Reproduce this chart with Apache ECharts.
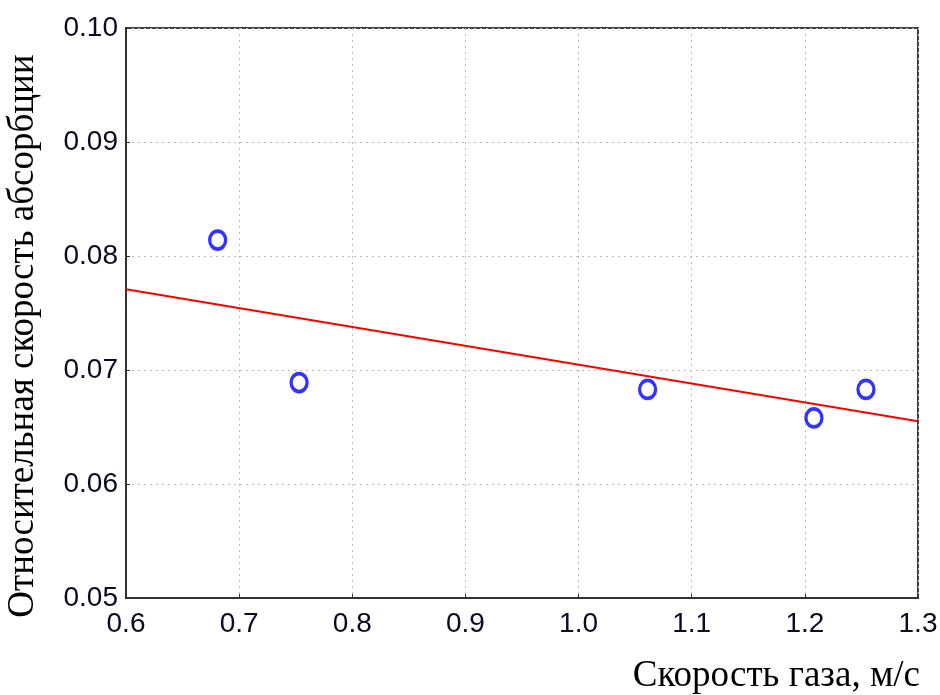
<!DOCTYPE html>
<html>
<head>
<meta charset="utf-8">
<script src="https://cdn.jsdelivr.net/npm/echarts@6/dist/echarts.min.js"></script>
<style>html,body{margin:0;padding:0;background:#fff}#c{width:940px;height:695px}</style>
</head>
<body>
<div id="c"></div>
<script>
const xTitle = 'Скорость газа, м/с';
const yTitle = 'Относительная скорость абсорбции';
const gasSpeed = [0.681, 0.753, 1.061, 1.208, 1.254];
const absorptionRate = [0.0814, 0.0689, 0.0683, 0.0658, 0.0683];
const fitX = [0.6, 1.3];
const fitY = [0.07708, 0.0655];

const chart = echarts.init(document.getElementById('c'));
const labelColor = '#0a0a22';
chart.setOption({
  animation: false,
  backgroundColor: '#fff',
  grid: { left: 126, right: 22, top: 28, bottom: 97, containLabel: false, outerBoundsMode: 'none', show: true, borderColor: '#404040', borderWidth: 2 },
  xAxis: {
    type: 'value', min: 0.6, max: 1.3, interval: 0.1,
    name: xTitle, nameLocation: 'end', nameGap: 2,
    nameTextStyle: { fontFamily: 'Liberation Serif', fontSize: 37, color: '#000', align: 'right', verticalAlign: 'top', padding: [60, 0, 0, 0] },
    axisLine: { show: true, lineStyle: { color: '#333', width: 2 } },
    axisTick: { show: true, inside: true, length: 4, lineStyle: { color: '#333' } },
    axisLabel: { fontFamily: 'Liberation Sans', fontSize: 28, color: labelColor, margin: 12, formatter: v => v.toFixed(1) },
    splitLine: { show: true, lineStyle: { color: '#bcbcbc', type: [2, 4], width: 1 } }
  },
  yAxis: {
    type: 'value', min: 0.05, max: 0.10, interval: 0.01,
    name: yTitle, nameLocation: 'middle', nameGap: 84,
    nameTextStyle: { fontFamily: 'Liberation Serif', fontSize: 37, color: '#000', padding: [0, 46, 0, 0] },
    axisLine: { show: true, lineStyle: { color: '#333', width: 2 } },
    axisTick: { show: true, inside: true, length: 4, lineStyle: { color: '#333' } },
    axisLabel: { fontFamily: 'Liberation Sans', fontSize: 28, color: labelColor, margin: 8, formatter: v => v.toFixed(2) },
    splitLine: { show: true, lineStyle: { color: '#bcbcbc', type: [2, 4], width: 1 } }
  },
  series: [
    {
      type: 'scatter', z: 2,
      data: gasSpeed.map((x, i) => [x, absorptionRate[i]]),
      symbol: 'circle', symbolSize: [16, 18],
      itemStyle: { color: '#fff', borderColor: '#0000ff', borderWidth: 3.5 }
    },
    {
      type: 'line', z: 3, symbol: 'none',
      data: fitX.map((x, i) => [x, fitY[i]]),
      lineStyle: { color: '#ff0000', width: 2 }
    }
  ]
});
</script>
</body>
</html>
